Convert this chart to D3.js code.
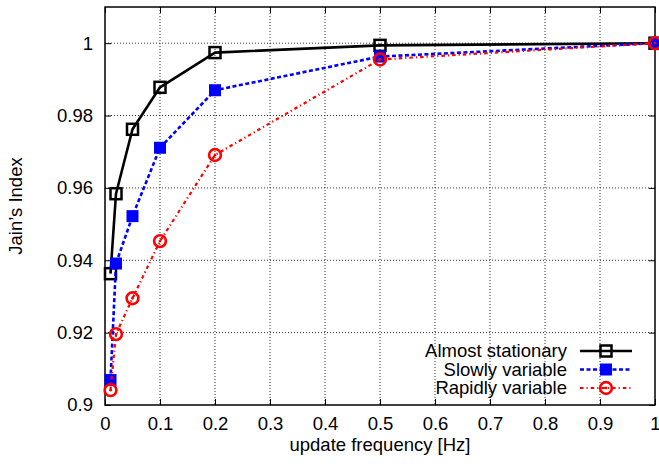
<!DOCTYPE html>
<html>
<head>
<meta charset="utf-8">
<script src="https://cdn.jsdelivr.net/npm/d3@7/dist/d3.min.js"></script>
<style>
  html, body { margin: 0; padding: 0; background: #fff; }
  svg { display: block; font-family: "Liberation Sans", Arial, Helvetica, sans-serif; }
</style>
</head>
<body>
<svg id="chart" width="659" height="466"></svg>
<script>
// Update frequency (Hz) at which each scenario was evaluated
const frequencies = [0.01, 0.02, 0.05, 0.1, 0.2, 0.5, 1.0];

// Jain's fairness index per scenario
const almostStationary = [0.9363, 0.9584, 0.9762, 0.9878, 0.9974, 0.9994, 1.0];
const slowlyVariable   = [0.9069, 0.9391, 0.9522, 0.9711, 0.9870, 0.9963, 1.0];
const rapidlyVariable  = [0.9041, 0.9196, 0.9295, 0.9453, 0.9691, 0.9955, 1.0];

const seriesNames = ["Almost stationary", "Slowly variable", "Rapidly variable"];

const xTicks = [0, 0.1, 0.2, 0.3, 0.4, 0.5, 0.6, 0.7, 0.8, 0.9, 1];
const yTicks = [0.9, 0.92, 0.94, 0.96, 0.98, 1];

const svg = d3.select("#chart");
const plotLeft = 105, plotRight = 655, plotTop = 7, plotBottom = 405;

const x = d3.scaleLinear().domain([0, 1]).range([plotLeft, plotRight]);
const y = d3.scaleLinear().domain([0.9, 1.01]).range([plotBottom, plotTop]);

const fontSize = "18.5px";

// dotted grid
const grid = svg.append("g");
grid.selectAll("line.gx").data(xTicks.filter(t => t > 0 && t < 1)).join("line")
  .attr("x1", d => x(d)).attr("x2", d => x(d))
  .attr("y1", plotTop).attr("y2", plotBottom)
  .attr("stroke", "#333").attr("stroke-width", 1).attr("stroke-dasharray", "1,2");
grid.selectAll("line.gy").data(yTicks.filter(t => t > 0.9)).join("line")
  .attr("x1", plotLeft).attr("x2", plotRight)
  .attr("y1", d => y(d)).attr("y2", d => y(d))
  .attr("stroke", "#333").attr("stroke-width", 1).attr("stroke-dasharray", "1,2");

// axes with inward ticks on all four sides
const tickLen = 6;
const axB = svg.append("g").attr("transform", `translate(0,${plotBottom})`)
  .call(d3.axisBottom(x).tickValues(xTicks).tickSizeInner(-tickLen).tickSizeOuter(0)
    .tickFormat(d3.format("~g")).tickPadding(16));
const axT = svg.append("g").attr("transform", `translate(0,${plotTop})`)
  .call(d3.axisTop(x).tickValues(xTicks).tickSizeInner(-tickLen).tickSizeOuter(0).tickFormat(""));
const axL = svg.append("g").attr("transform", `translate(${plotLeft},0)`)
  .call(d3.axisLeft(y).tickValues(yTicks).tickSizeInner(-tickLen).tickSizeOuter(0)
    .tickFormat(d3.format("~g")).tickPadding(12));
const axR = svg.append("g").attr("transform", `translate(${plotRight},0)`)
  .call(d3.axisRight(y).tickValues(yTicks).tickSizeInner(-tickLen).tickSizeOuter(0).tickFormat(""));

[axB, axT, axL, axR].forEach(a => {
  a.select(".domain").remove();
  a.selectAll(".tick line").attr("stroke", "#000").attr("stroke-width", 1);
  a.selectAll("text").attr("fill", "#000").style("font-size", fontSize)
    .style("font-family", "'Liberation Sans', Arial, Helvetica, sans-serif");
});
axB.selectAll("text").attr("dy", "0.71em").attr("y", 12);

// plot border
svg.append("rect").attr("x", plotLeft).attr("y", plotTop)
  .attr("width", plotRight - plotLeft).attr("height", plotBottom - plotTop)
  .attr("fill", "none").attr("stroke", "#000").attr("stroke-width", 1.5);

// axis titles
svg.append("text").attr("x", (plotLeft + plotRight) / 2).attr("y", 451)
  .attr("text-anchor", "middle").style("font-size", fontSize)
  .text("update frequency [Hz]");
svg.append("text").attr("transform", "translate(22,206) rotate(-90)")
  .attr("text-anchor", "middle").style("font-size", fontSize)
  .text("Jain\u2019s Index");

// series styles
const styles = [
  { color: "#000", width: 2.6, dash: null, marker: "open-square" },
  { color: "#0000ff", width: 2.6, dash: "4,2.5", marker: "filled-square" },
  { color: "#ff0000", width: 2.2, dash: "3.5,3,1.2,3", marker: "dot-circle" }
];
const seriesValues = [almostStationary, slowlyVariable, rapidlyVariable];

function drawMarker(g, kind, color, cx, cy) {
  if (kind === "open-square") {
    g.append("rect").attr("x", cx - 5.5).attr("y", cy - 5.5).attr("width", 11).attr("height", 11)
      .attr("fill", "none").attr("stroke", color).attr("stroke-width", 2.5);
  } else if (kind === "filled-square") {
    g.append("rect").attr("x", cx - 6).attr("y", cy - 6).attr("width", 12).attr("height", 12)
      .attr("fill", color);
  } else {
    g.append("circle").attr("cx", cx).attr("cy", cy).attr("r", 5.9)
      .attr("fill", "none").attr("stroke", color).attr("stroke-width", 2.6);
    g.append("circle").attr("cx", cx).attr("cy", cy).attr("r", 1.4).attr("fill", color);
  }
}

const line = d3.line().x(d => x(d[0])).y(d => y(d[1]));

seriesValues.forEach((vals, i) => {
  const st = styles[i];
  const pts = frequencies.map((f, j) => [f, vals[j]]);
  const g = svg.append("g");
  g.append("path").datum(pts).attr("d", line)
    .attr("fill", "none").attr("stroke", st.color).attr("stroke-width", st.width)
    .attr("stroke-dasharray", st.dash).attr("stroke-linejoin", "round");
  pts.forEach(p => drawMarker(g, st.marker, st.color, x(p[0]), y(p[1])));
});

// legend
const legendRows = [351, 369.5, 388];
seriesNames.forEach((name, i) => {
  const st = styles[i];
  const ly = legendRows[i];
  const g = svg.append("g");
  g.append("text").attr("x", 567).attr("y", ly).attr("dy", "0.35em")
    .attr("text-anchor", "end").style("font-size", fontSize).text(name);
  g.append("line").attr("x1", 580).attr("x2", 632).attr("y1", ly).attr("y2", ly)
    .attr("stroke", st.color).attr("stroke-width", st.width).attr("stroke-dasharray", st.dash);
  drawMarker(g, st.marker, st.color, 606, ly);
});
</script>
</body>
</html>
